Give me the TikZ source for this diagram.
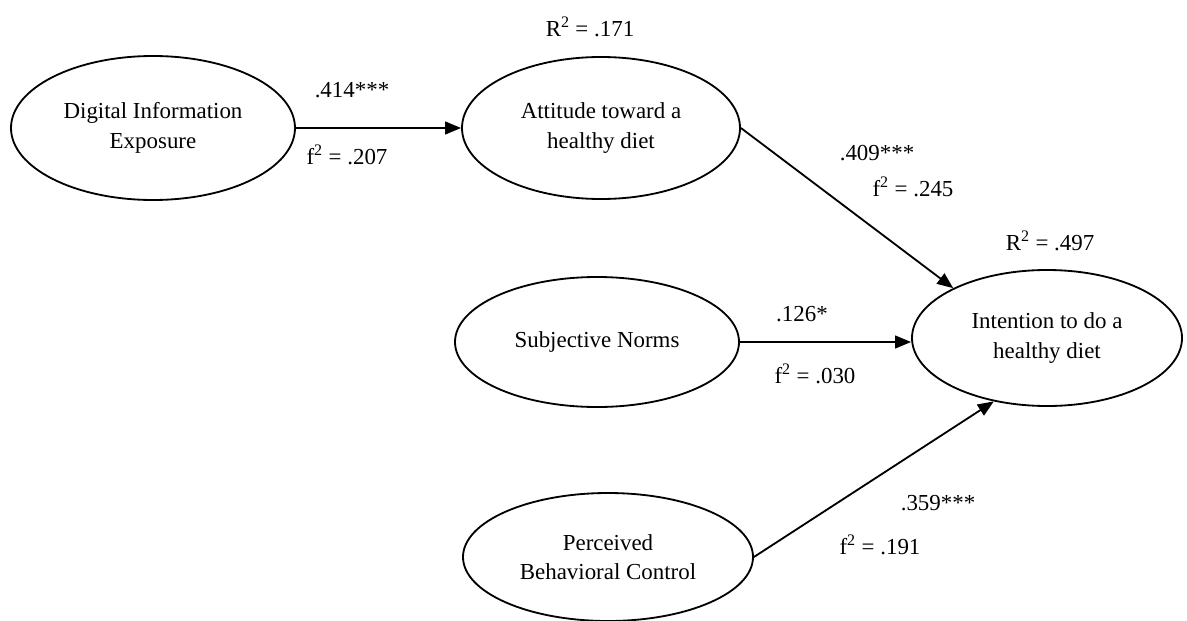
\documentclass[tikz,border=0pt]{standalone}
\usepackage{fontspec}
\setmainfont{Liberation Serif}
\usetikzlibrary{shapes.geometric,arrows.meta}
\begin{document}
\begin{tikzpicture}[line join=round,font=\fontsize{16.3}{21}\selectfont,
	latent/.style={draw,ellipse,line width=1.3pt,inner sep=0pt,align=center},
	path/.style={line width=1.3pt,-{Triangle[length=0.4cm,width=0.32cm]}}]
	\useasboundingbox (0,0) rectangle (29.675,-15.5);
	\node[latent,minimum width=7.1cm,minimum height=3.6cm] (dig) at (3.825,-3.2) {Digital Information\\Exposure};
	\node[latent,minimum width=6.95cm,minimum height=3.55cm] (att) at (15.025,-3.2) {Attitude toward a\\healthy diet};
	\node[latent,minimum width=7.1cm,minimum height=3.25cm] (sn) at (14.925,-8.55) {Subjective Norms};
	\node[latent,minimum width=7.25cm,minimum height=3.2cm] (pbc) at (15.2,-13.925) {Perceived\\Behavioral Control};
	\node[latent,minimum width=6.75cm,minimum height=3.4cm] (int) at (26.175,-8.45) {Intention to do a\\healthy diet};
	% paths
	\draw[path] (dig) -- (att);
	\draw[path] (att.east) -- (int.152);
	\draw[path] (sn.east) -- (sn.east -| int.west);
	\draw[path] (pbc.east) -- (int.-130);
	% coefficients
	\node (r1) at (14.75,-0.675) {R\textsuperscript{2} = .171};
	\node (b1) at (8.8,-2.25) {.414***};
	\node (f1) at (8.675,-3.875) {f\textsuperscript{2} = .207};
	\node (b2) at (21.925,-3.825) {.409***};
	\node (f2) at (22.825,-4.675) {f\textsuperscript{2} = .245};
	\node (r2) at (26.25,-6.025) {R\textsuperscript{2} = .497};
	\node (b3) at (20.05,-7.85) {.126*};
	\node (f3) at (20.375,-9.35) {f\textsuperscript{2} = .030};
	\node (b4) at (23.45,-12.575) {.359***};
	\node (f4) at (22.0,-13.625) {f\textsuperscript{2} = .191};
\end{tikzpicture}
\end{document}
